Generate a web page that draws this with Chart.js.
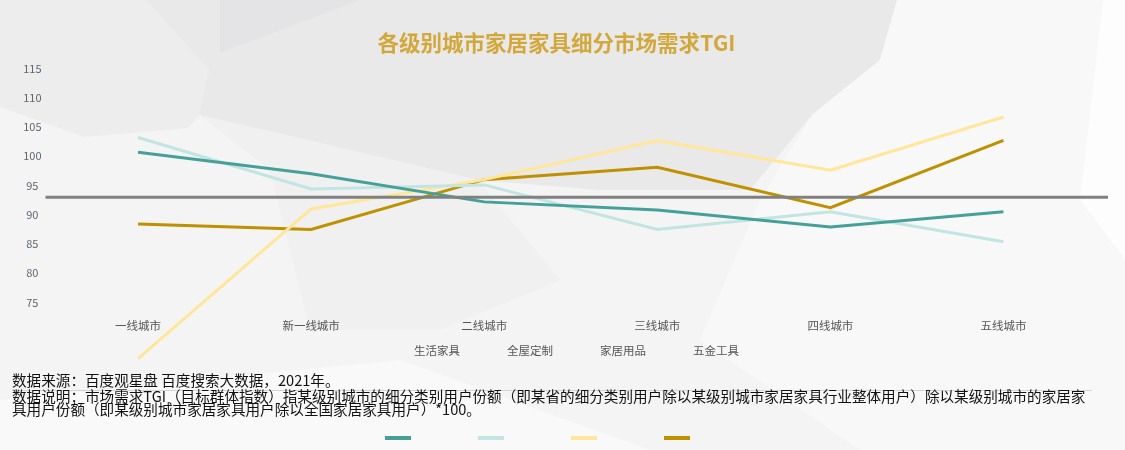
<!DOCTYPE html>
<html lang="zh-CN">
<head>
<meta charset="utf-8">
<title>各级别城市家居家具细分市场需求TGI</title>
<script src="https://cdn.jsdelivr.net/npm/chart.js@4.4.1/dist/chart.umd.min.js"></script>
<style>
    html, body { margin: 0; padding: 0; }
    body {
        width: 1125px; height: 450px; overflow: hidden; position: relative;
        background: #f4f4f4;
        font-family: "Noto Sans CJK SC", "Noto Sans", sans-serif;
    }
    #bg { position: absolute; left: 0; top: 0; }
    #chartBox { position: absolute; left: 0; top: 0; width: 1125px; height: 450px; }
    .legend-text { position: absolute; top: 342px; font-size: 11.5px; color: #555; white-space: nowrap; line-height: 16px; }
    .legend-swatch { position: absolute; top: 436px; width: 26px; height: 4px; }
    #rule { position: absolute; left: 12px; top: 390px; width: 1080px; height: 1px; background: #d4d4d4; }
    .note { position: absolute; left: 12px; width: 1100px; font-size: 14.6px; color: #111; white-space: nowrap; }
    #note1 { top: 371px; line-height: 17px; }
    #note2 { top: 390px; line-height: 12.5px; }
</style>
</head>
<body>
<svg id="bg" width="1125" height="450" xmlns="http://www.w3.org/2000/svg">
    <polygon fill="#ededed" points="0,0 146,0 209,70 200,115 188,128 84,137 0,107"/>
    <polygon fill="#e9e9e9" points="146,0 897,0 880,60 812,115 750,190 600,190 478,180 199,115 209,70"/>
    <polygon fill="#e4e4e6" points="220,0 360,0 220,53"/>
    <polygon fill="#f0f0f0" points="199,115 478,180 560,280 440,330 310,330 270,170"/>
    <polygon fill="#f8f8f9" points="897,0 1103,0 1080,200 1125,260 1125,450 860,450 700,340 760,200 812,115 880,60"/>
    <polygon fill="#fdfdfd" points="1103,0 1125,0 1125,260 1080,200"/>
    <polygon fill="#f9f9f9" points="0,400 400,360 650,450 0,450"/>
</svg>
<div id="chartBox"><canvas id="tgiChart"></canvas></div>
<div id="rule"></div>
<div id="note1" class="note">数据来源：百度观星盘 百度搜索大数据，2021年。</div>
<div id="note2" class="note">数据说明：市场需求TGI（目标群体指数）指某级别城市的细分类别用户份额（即某省的细分类别用户除以某级别城市家居家具行业整体用户）除以某级别城市的家居家<br>具用户份额（即某级别城市家居家具用户除以全国家居家具用户）*100。</div>
<div id="legend"></div>

<script>
(function() {
    'use strict';

    // Data
    const cities = ['一线城市', '新一线城市', '二线城市', '三线城市', '四线城市', '五线城市'];
    const seriesNames = ['生活家具', '全屋定制', '家居用品', '五金工具'];
    const livingFurniture = [100.7, 97.0, 92.2, 90.8, 87.9, 90.5];
    const wholeHouse = [103.2, 94.4, 95.1, 87.5, 90.5, 85.4];
    const homeGoods = [65.4, 91.0, 96.0, 102.7, 97.6, 106.7];
    const hardware = [88.4, 87.5, 96.0, 98.1, 91.2, 102.7];
    const yTicks = [75, 80, 85, 90, 95, 100, 105, 110, 115];
    const referenceLine = [93];

    const palette = ['#45a198', '#c2e5e1', '#ffe699', '#bf9000'];
    const fontFamily = '"Noto Sans CJK SC", "Noto Sans", sans-serif';

    // Horizontal grey reference line, drawn over the series
    const refLinePlugin = {
        id: 'refLine',
        afterDatasetsDraw: function(chart) {
            const area = chart.chartArea;
            const ctx = chart.ctx;
            referenceLine.forEach(function(v) {
                const y = chart.scales.y.getPixelForValue(v);
                ctx.save();
                ctx.strokeStyle = '#808080';
                ctx.lineWidth = 3;
                ctx.beginPath();
                ctx.moveTo(area.left - 6, y);
                ctx.lineTo(area.right + 18, y);
                ctx.stroke();
                ctx.restore();
            });
        }
    };

    const seriesValues = [livingFurniture, wholeHouse, homeGoods, hardware];

    const chart = new Chart(document.getElementById('tgiChart'), {
        type: 'line',
        data: {
            labels: cities,
            datasets: seriesNames.map(function(name, i) {
                return {
                    label: name,
                    data: seriesValues[i],
                    borderColor: palette[i],
                    backgroundColor: palette[i],
                    borderWidth: 3,
                    pointRadius: 0,
                    pointHoverRadius: 0,
                    tension: 0,
                    clip: false
                };
            })
        },
        options: {
            responsive: true,
            maintainAspectRatio: false,
            animation: false,
            layout: {
                padding: { left: 23, right: 35, top: 0, bottom: 112 }
            },
            plugins: {
                legend: { display: false },
                tooltip: { enabled: false },
                title: {
                    display: true,
                    text: '各级别城市家居家具细分市场需求TGI',
                    color: '#d2a83c',
                    font: { family: fontFamily, size: 21.5, weight: 'bold' },
                    padding: { top: 30, bottom: 1 }
                }
            },
            scales: {
                x: {
                    offset: true,
                    grid: { display: false, drawTicks: false },
                    border: { display: false },
                    ticks: {
                        color: '#555',
                        padding: 5,
                        font: { family: fontFamily, size: 11.5 }
                    }
                },
                y: {
                    min: 73,
                    max: 117,
                    afterBuildTicks: function(axis) {
                        axis.ticks = yTicks.map(function(v) { return { value: v }; });
                    },
                    afterFit: function(axis) {
                        axis.width = 28.5;
                    },
                    grid: { display: false, drawTicks: false },
                    border: { display: false },
                    ticks: {
                        crossAlign: 'center',
                        padding: 10,
                        color: '#5b6670',
                        font: { family: fontFamily, size: 11 }
                    }
                }
            }
        },
        plugins: [refLinePlugin]
    });

    // Legend: names under the axis, colour bars further down
    const legend = document.getElementById('legend');
    chart.data.datasets.forEach(function(ds, i) {
        const left = 385 + i * 93;
        const sw = document.createElement('div');
        sw.className = 'legend-swatch';
        sw.style.left = left + 'px';
        sw.style.background = ds.borderColor;
        legend.appendChild(sw);

        const tx = document.createElement('div');
        tx.className = 'legend-text';
        tx.style.left = (left + 29) + 'px';
        tx.textContent = ds.label;
        legend.appendChild(tx);
    });
})();
</script>
</body>
</html>
